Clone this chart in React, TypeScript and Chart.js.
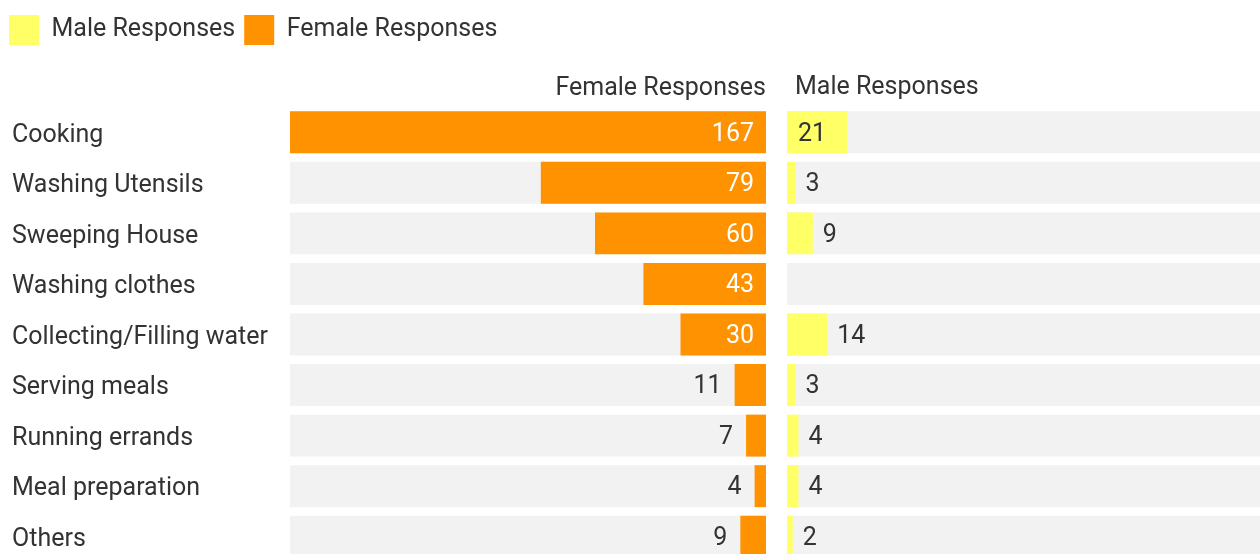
import React, { useEffect, useRef } from 'react';
import { Chart, registerables } from 'chart.js';

Chart.register(...registerables);

const categories = [
  'Cooking',
  'Washing Utensils',
  'Sweeping House',
  'Washing clothes',
  'Collecting/Filling water',
  'Serving meals',
  'Running errands',
  'Meal preparation',
  'Others',
];
const femaleValues = [167, 79, 60, 43, 30, 11, 7, 4, 9];
const maleValues = [21, 3, 9, 0, 14, 3, 4, 4, 2];
const axisMax = 167;
const legendNames = ['Male Responses', 'Female Responses'];
const femaleTitle = 'Female Responses';
const maleTitle = 'Male Responses';

const maleColor = '#FFFF66';
const femaleColor = '#FF9200';
const trackColor = '#F2F2F2';
const textColor = '#333333';
const FONT = 'Roboto, "Noto Sans", sans-serif';
const FONT_SIZE = 25;
const CANVAS_H = 577;

const trackValues = categories.map(() => axisMax);

const valueLabels = {
  id: 'valueLabels',
  afterDatasetsDraw(chart: any, _args: any, opts: any) {
    const meta = chart.getDatasetMeta(opts.datasetIndex);
    const ds = chart.data.datasets[opts.datasetIndex];
    const ctx = chart.ctx;
    ctx.save();
    ctx.font = `${FONT_SIZE}px ${FONT}`;
    ctx.textBaseline = 'middle';
    meta.data.forEach((bar: any, i: number) => {
      const v = ds.data[i];
      if (!v) return;
      const { x, y, base } = bar.getProps(['x', 'y', 'base'], true);
      const w = Math.abs(x - base);
      const dir = x < base ? -1 : 1;
      ctx.textAlign = dir < 0 ? 'right' : 'left';
      if (w > opts.insideMin) {
        ctx.fillStyle = opts.insideColor;
        ctx.fillText(String(v), base + dir * opts.insidePad, y + 2);
      } else {
        ctx.fillStyle = textColor;
        ctx.fillText(String(v), x + dir * opts.outsidePad, y + 2);
      }
    });
    ctx.restore();
  },
};

const panelTitle = {
  id: 'panelTitle',
  afterDraw(chart: any, _args: any, opts: any) {
    if (!opts || !opts.text) return;
    const ctx = chart.ctx;
    const area = chart.chartArea;
    ctx.save();
    ctx.font = `${FONT_SIZE}px ${FONT}`;
    ctx.fillStyle = textColor;
    ctx.textAlign = 'left';
    ctx.textBaseline = 'middle';
    ctx.fillText(opts.text, area.left + opts.dx, area.top + opts.dy);
    ctx.restore();
  },
};

// moves the category axis (and so its left-aligned labels) right by dx
const shiftCategoryAxis = {
  id: 'shiftCategoryAxis',
  afterLayout(chart: any, _args: any, opts: any) {
    const y = chart.scales.y;
    if (y && opts && opts.dx) {
      y.left += opts.dx;
    }
  },
};

const barCommon = {
  grouped: false,
  barPercentage: 0.83,
  categoryPercentage: 1,
  borderWidth: 0,
};

export default function App() {
  const femaleRef = useRef<HTMLCanvasElement | null>(null);
  const maleRef = useRef<HTMLCanvasElement | null>(null);

  useEffect(() => {
    if (!femaleRef.current || !maleRef.current) return;
    const female = new Chart(femaleRef.current, {
      type: 'bar',
      data: {
        labels: categories,
        datasets: [
          { label: femaleTitle, data: femaleValues, backgroundColor: femaleColor, order: 1, ...barCommon },
          { label: 'track', data: trackValues, backgroundColor: trackColor, order: 2, ...barCommon },
        ],
      },
      options: {
        indexAxis: 'y',
        responsive: false,
        animation: false,
        layout: { padding: { left: 0, top: 6, right: 0, bottom: 0 } },
        scales: {
          x: { reverse: true, min: 0, max: axisMax, display: false },
          y: {
            grid: { display: false },
            border: { display: false },
            ticks: {
              crossAlign: 'far',
              color: textColor,
              padding: 0,
              labelOffset: 3,
              font: { family: FONT, size: FONT_SIZE },
            },
            afterFit: (s: any) => {
              s.width = 290;
            },
          },
        },
        plugins: {
          legend: {
            display: true,
            position: 'top',
            align: 'start',
            weight: 3000,
            labels: {
              boxWidth: 30,
              boxHeight: 30,
              padding: 9,
              color: textColor,
              font: { family: FONT, size: FONT_SIZE },
              generateLabels: () =>
                legendNames.map((name, i) => ({
                  text: name,
                  fillStyle: i === 0 ? maleColor : femaleColor,
                  strokeStyle: i === 0 ? maleColor : femaleColor,
                  lineWidth: 0,
                  fontColor: textColor,
                  hidden: false,
                  datasetIndex: i,
                })),
            },
          },
          title: {
            display: true,
            text: femaleTitle,
            align: 'end',
            color: textColor,
            font: { family: FONT, size: FONT_SIZE, weight: 'normal' },
            padding: { top: 19, bottom: 3 },
          },
          tooltip: { enabled: false },
          shiftCategoryAxis: { dx: 12 },
          valueLabels: { datasetIndex: 0, insideMin: 50, insidePad: 12, outsidePad: 13, insideColor: '#FFFFFF' },
        },
      } as any,
      plugins: [valueLabels, shiftCategoryAxis],
    });

    const area = female.chartArea;
    const male = new Chart(maleRef.current, {
      type: 'bar',
      data: {
        labels: categories,
        datasets: [
          { label: maleTitle, data: maleValues, backgroundColor: maleColor, order: 1, ...barCommon },
          { label: 'track', data: trackValues, backgroundColor: trackColor, order: 2, ...barCommon },
        ],
      },
      options: {
        indexAxis: 'y',
        responsive: false,
        animation: false,
        layout: { padding: { left: 0, top: area.top, right: 0, bottom: CANVAS_H - area.bottom } },
        scales: {
          x: { min: 0, max: axisMax, display: false },
          y: { display: false },
        },
        plugins: {
          legend: { display: false },
          title: { display: false },
          tooltip: { enabled: false },
          valueLabels: { datasetIndex: 0, insideMin: 50, insidePad: 11, outsidePad: 10, insideColor: textColor },
          panelTitle: { text: maleTitle, dx: 8, dy: -19 },
        },
      } as any,
      plugins: [valueLabels, panelTitle],
    });

    return () => {
      female.destroy();
      male.destroy();
    };
  }, []);

  return (
    <div
      style={{
        position: 'absolute',
        left: 0,
        top: 0,
        width: 1260,
        height: 554,
        overflow: 'hidden',
        background: '#FFFFFF',
      }}
    >
      <canvas ref={femaleRef} width={766} height={CANVAS_H} style={{ position: 'absolute', left: 0, top: 0 }} />
      <canvas ref={maleRef} width={480} height={CANVAS_H} style={{ position: 'absolute', left: 787, top: 0 }} />
    </div>
  );
}
